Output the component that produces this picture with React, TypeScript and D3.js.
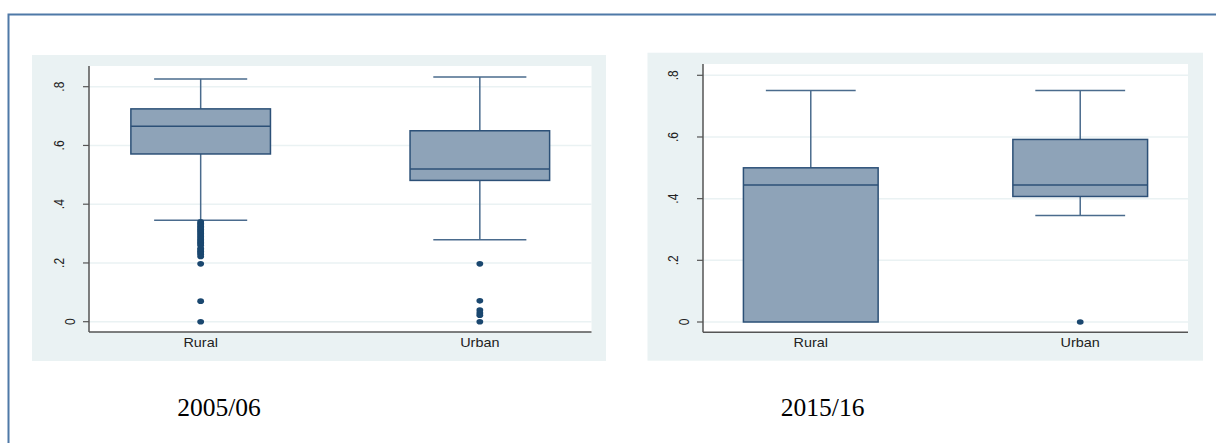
import { useEffect, useRef } from 'react'
import * as d3 from 'd3'

const categories = ['Rural', 'Urban']
const yTicks = [0, 0.2, 0.4, 0.6, 0.8]
const yTickLabels = ['0', '.2', '.4', '.6', '.8']

// 2005/06
const lowWhisker2005 = [0.345, 0.279]
const q1_2005 = [0.571, 0.481]
const median2005 = [0.665, 0.52]
const q3_2005 = [0.7245, 0.65]
const highWhisker2005 = [0.8265, 0.833]
const outliersRural2005 = [
  0.34, 0.335, 0.33, 0.325, 0.32, 0.315, 0.31, 0.305, 0.3, 0.295, 0.29, 0.285,
  0.28, 0.275, 0.27, 0.265, 0.26, 0.25, 0.245, 0.24, 0.235, 0.23, 0.222, 0.197,
  0.07, 0,
]
const outliersUrban2005 = [0.197, 0.071, 0.04, 0.03, 0.022, 0]

// 2015/16
const lowWhisker2015 = [0, 0.345]
const q1_2015 = [0, 0.407]
const median2015 = [0.444, 0.444]
const q3_2015 = [0.5, 0.592]
const highWhisker2015 = [0.751, 0.751]
const outliersRural2015: number[] = []
const outliersUrban2015 = [0]

const yearLabels = ['2005/06', '2015/16']

const FILL = '#8ea3b8'
const BOX_STROKE = '#2c5077'
const WHISKER = '#4a6b8d'
const DOT = '#1a476f'
const BG = '#eaf2f3'
const GRID = '#eaf2f3'
const AXIS = '#555'
const SX = 1.2 // chart images are stretched horizontally

function drawPanel(svg, p, data) {
  const g = svg.append('g')

  g.append('rect')
    .attr('x', p.panel[0])
    .attr('y', p.panel[1])
    .attr('width', p.panel[2])
    .attr('height', p.panel[3])
    .attr('fill', BG)

  g.append('rect')
    .attr('x', p.x0)
    .attr('y', p.y0)
    .attr('width', p.x1 - p.x0)
    .attr('height', p.y1 - p.y0)
    .attr('fill', 'white')

  const x = d3.scalePoint().domain(categories).range([p.x0, p.x1]).padding(0.4)
  const y = d3.scaleLinear().domain([0, 0.8]).range([p.zeroY, p.topY])
  const step = x.step()
  const boxHalf = step * 0.25
  const capHalf = step * 0.1667

  // gridlines
  g.selectAll('line.grid')
    .data(yTicks)
    .enter()
    .append('line')
    .attr('x1', p.x0)
    .attr('x2', p.x1)
    .attr('y1', (d) => y(d))
    .attr('y2', (d) => y(d))
    .attr('stroke', GRID)
    .attr('stroke-width', 1.5)

  // ticks
  g.selectAll('line.tick')
    .data(yTicks)
    .enter()
    .append('line')
    .attr('x1', p.x0 - 6)
    .attr('x2', p.x0)
    .attr('y1', (d) => y(d))
    .attr('y2', (d) => y(d))
    .attr('stroke', AXIS)
    .attr('stroke-width', 1.2)

  g.selectAll('text.ytick')
    .data(yTicks)
    .enter()
    .append('text')
    .attr('transform', (d, i) => {
      const bx = yTickLabels[i] === '0' ? p.x0 - 14 : p.x0 - 25
      return `translate(${bx},${y(d)}) scale(${SX},1) rotate(-90)`
    })
    .attr('text-anchor', 'middle')
    .attr('font-family', 'Liberation Sans, Arial, sans-serif')
    .attr('font-size', 12)
    .attr('fill', '#222')
    .text((d, i) => yTickLabels[i])

  categories.forEach((c, i) => {
    const cx = x(c)
    // whiskers
    g.append('line')
      .attr('x1', cx)
      .attr('x2', cx)
      .attr('y1', y(data.q3[i]))
      .attr('y2', y(data.hi[i]))
      .attr('stroke', WHISKER)
      .attr('stroke-width', 1.5)
    g.append('line')
      .attr('x1', cx)
      .attr('x2', cx)
      .attr('y1', y(data.q1[i]))
      .attr('y2', y(data.lo[i]))
      .attr('stroke', WHISKER)
      .attr('stroke-width', 1.5)
    g.append('line')
      .attr('x1', cx - capHalf)
      .attr('x2', cx + capHalf)
      .attr('y1', y(data.hi[i]))
      .attr('y2', y(data.hi[i]))
      .attr('stroke', WHISKER)
      .attr('stroke-width', 1.5)
    if (data.lo[i] !== data.q1[i]) {
      g.append('line')
        .attr('x1', cx - capHalf)
        .attr('x2', cx + capHalf)
        .attr('y1', y(data.lo[i]))
        .attr('y2', y(data.lo[i]))
        .attr('stroke', WHISKER)
        .attr('stroke-width', 1.5)
    }

    // box
    g.append('rect')
      .attr('x', cx - boxHalf)
      .attr('y', y(data.q3[i]))
      .attr('width', boxHalf * 2)
      .attr('height', y(data.q1[i]) - y(data.q3[i]))
      .attr('fill', FILL)
      .attr('stroke', BOX_STROKE)
      .attr('stroke-width', 1.5)
    g.append('line')
      .attr('x1', cx - boxHalf)
      .attr('x2', cx + boxHalf)
      .attr('y1', y(data.med[i]))
      .attr('y2', y(data.med[i]))
      .attr('stroke', BOX_STROKE)
      .attr('stroke-width', 1.5)

    // outliers
    g.selectAll(null)
      .data(data.out[i])
      .enter()
      .append('ellipse')
      .attr('cx', cx)
      .attr('cy', (d) => y(d))
      .attr('rx', 3.4)
      .attr('ry', 2.8)
      .attr('fill', DOT)

    g.append('text')
      .attr('transform', `translate(${cx},${p.y1 + 14.5}) scale(${SX},1)`)
      .attr('text-anchor', 'middle')
      .attr('font-family', 'Liberation Sans, Arial, sans-serif')
      .attr('font-size', 12)
      .attr('fill', '#222')
      .text(c)
  })

  // axis lines
  g.append('line')
    .attr('x1', p.x0)
    .attr('x2', p.x0)
    .attr('y1', p.y0)
    .attr('y2', p.y1)
    .attr('stroke', AXIS)
    .attr('stroke-width', 1.5)
  g.append('line')
    .attr('x1', p.x0)
    .attr('x2', p.x1)
    .attr('y1', p.y1)
    .attr('y2', p.y1)
    .attr('stroke', AXIS)
    .attr('stroke-width', 1.5)

  g.append('text')
    .attr('x', p.labelX)
    .attr('y', 415.5)
    .attr('text-anchor', 'middle')
    .attr('font-family', 'Liberation Serif, Times New Roman, serif')
    .attr('font-size', 25.5)
    .attr('fill', '#000')
    .text(p.label)
}

const App = () => {
  const svgRef = useRef(null)

  useEffect(() => {
    const svg = d3.select(svgRef.current)
    svg.selectAll('*').remove()

    // frame
    svg.append('path')
      .attr('d', 'M8.5,443 L8.5,14.5 L1216,14.5')
      .attr('fill', 'none')
      .attr('stroke', '#4f79a7')
      .attr('stroke-width', 2)

    drawPanel(
      svg,
      {
        panel: [32, 55, 574, 306],
        x0: 89,
        x1: 591.5,
        y0: 66,
        y1: 332,
        zeroY: 321.7,
        topY: 86.7,
        labelX: 219,
        label: yearLabels[0],
      },
      {
        lo: lowWhisker2005,
        q1: q1_2005,
        med: median2005,
        q3: q3_2005,
        hi: highWhisker2005,
        out: [outliersRural2005, outliersUrban2005],
      },
    )

    drawPanel(
      svg,
      {
        panel: [647.5, 52.7, 555.5, 308],
        x0: 703,
        x1: 1188,
        y0: 64,
        y1: 332.3,
        zeroY: 322,
        topY: 75.3,
        labelX: 822.6,
        label: yearLabels[1],
      },
      {
        lo: lowWhisker2015,
        q1: q1_2015,
        med: median2015,
        q3: q3_2015,
        hi: highWhisker2015,
        out: [outliersRural2015, outliersUrban2015],
      },
    )
  }, [])

  return (
    <div style={{ position: 'absolute', left: 0, top: 0 }}>
      <svg ref={svgRef} width={1216} height={443} style={{ display: 'block' }}></svg>
    </div>
  )
}

export default App
